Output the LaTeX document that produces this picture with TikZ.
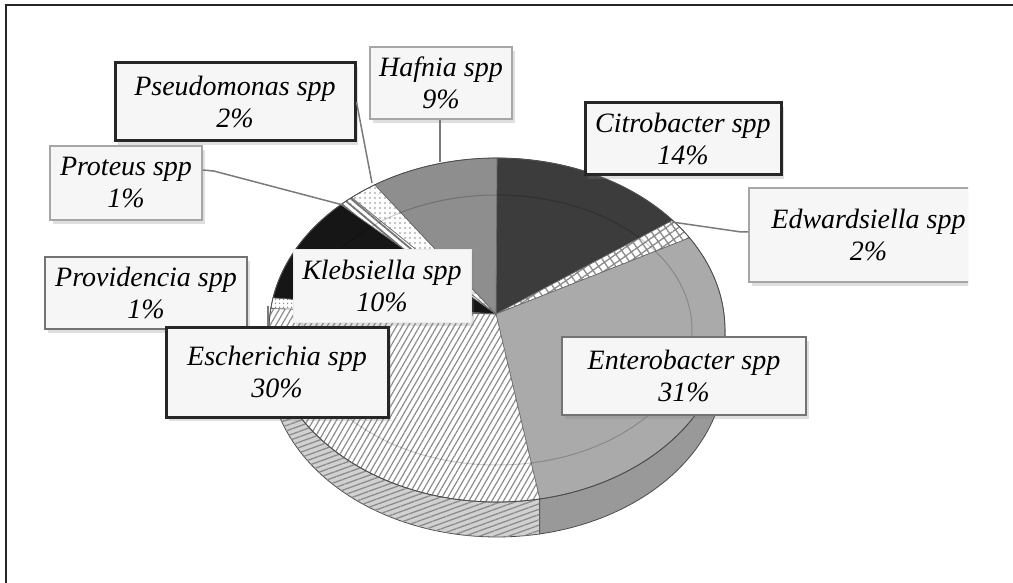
\documentclass[tikz,border=0pt]{standalone}
\usepackage{fontspec}
\setmainfont{Liberation Serif}
\usetikzlibrary{patterns.meta,shadows,calc}
\definecolor{citro}{HTML}{3C3C3C}
\definecolor{entero}{HTML}{AAAAAA}
\definecolor{enteroside}{HTML}{999999}
\definecolor{kleb}{HTML}{161616}
\definecolor{hafnia}{HTML}{8E8E8E}
\definecolor{hatch}{HTML}{8A8A8A}
\definecolor{boxfill}{HTML}{F6F6F6}
\definecolor{leader}{HTML}{7A7A7A}
\newcommand{\pieslice}[3]{\path[#3] (496,314) -- plot[domain=#1:#2,samples=50] ({497+228*cos(\x)},{330-172*sin(\x)}) -- cycle;}
\newcommand{\pieside}[3]{\path[#3] plot[domain=#1:#2,samples=50] ({497+228*cos(\x)},{330-172*sin(\x)}) -- plot[domain=#2:#1,samples=50] ({497+228*cos(\x)},{365-172*sin(\x)}) -- cycle;}
\begin{document}
\begin{tikzpicture}[x=1pt,y=-1pt,
  lbl/.style={align=center, font=\fontsize{28}{32}\selectfont\itshape, inner sep=0pt,
    fill=boxfill, drop shadow={shadow xshift=3pt,shadow yshift=-4pt,opacity=0.25}},
  darkbox/.style={lbl, draw=black!85, line width=3pt},
  midbox/.style={lbl, draw=black!55, line width=2pt},
  lightbox/.style={lbl, draw=black!35, line width=1.5pt},
  faintbox/.style={lbl, draw=black!8, line width=1pt},
  lead/.style={draw=leader, line width=1.5pt},
  sep/.style={draw=black!60, line width=0.6pt}]
\useasboundingbox (0,0) rectangle (1013,583);
% frame
\draw[line width=2pt, black!85] (1013,5) -- (6,5) -- (6,583);
% pie side
\pieside{180}{280.8}{fill=black!18, draw=black!70, line width=0.8pt}
\pieside{180}{280.8}{pattern={Lines[angle=20,distance=5pt,line width=1.3pt]}, pattern color=black!45}
\pieside{280.8}{360}{fill=enteroside, draw=black!70, line width=0.8pt}
% pie top
\pieslice{90}{39.6}{fill=citro, sep}
\pieslice{39.6}{32.4}{preaction={fill=white}, pattern={Hatch[angle=35,distance=7pt,line width=1.3pt]}, pattern color=hatch, sep}
\pieslice{32.4}{-79.2}{fill=entero, sep}
\pieslice{-79.2}{-187.2}{preaction={fill=white}, pattern={Lines[angle=60,distance=5pt,line width=1.2pt]}, pattern color=black!45, sep}
\pieslice{-187.2}{-190.8}{preaction={fill=white}, pattern={Dots[distance=4pt,radius=1pt]}, pattern color=black!45, sep}
\pieslice{-190.8}{-226.8}{fill=kleb, sep}
\pieslice{-226.8}{-230.4}{preaction={fill=white}, pattern={Lines[angle=-40,distance=5pt,line width=1.8pt]}, pattern color=black!55, sep}
\pieslice{-230.4}{-237.6}{preaction={fill=white}, pattern={Dots[distance=5pt,radius=1.2pt]}, pattern color=black!30, sep}
\pieslice{-237.6}{-270}{fill=hafnia, sep}
% bevel rim and outline
\draw[black, opacity=0.2, line width=1pt] (497,330) ellipse [x radius=195pt, y radius=135pt];
\draw[black!70, line width=0.8pt] (497,330) ellipse [x radius=228pt, y radius=172pt];
% anchor points on the pie
\coordinate (hafpt) at (440,162);
\coordinate (psept) at (372,183);
\coordinate (propt) at (343,205);
\coordinate (edwpt) at (672,222);
\coordinate (prvpt) at (268,306);
% labels (boxes not covering leaders first)
\node[lightbox, minimum width=142pt, minimum height=72pt] (haf) at (441,83) {Hafnia spp\\9\%};
\node[darkbox, minimum width=240pt, minimum height=78pt] (pse) at (235,102) {Pseudomonas spp\\2\%};
\node[darkbox, minimum width=196pt, minimum height=72pt] (cit) at (683,139) {Citrobacter spp\\14\%};
\node[lightbox, minimum width=152pt, minimum height=74pt] (pro) at (126,183) {Proteus spp\\1\%};
\begin{scope}
\clip (0,0) rectangle (968,583);
\node[lightbox, minimum width=239pt, minimum height=94pt] (edw) at (868.5,235) {Edwardsiella spp\\2\%};
\end{scope}
\node[faintbox, minimum width=178pt, minimum height=73pt] (kle) at (382,285.5) {Klebsiella spp\\10\%};
\node[midbox, minimum width=202pt, minimum height=72pt] (prv) at (146,293) {Providencia spp\\1\%};
% leaders
\path[lead] (haf.south -| hafpt) -- (hafpt);
\path[lead] (pse.east) -- (psept);
\path[lead] ([yshift=13pt]pro.east) -- ++(11,1) -- (propt);
\path[lead] ([yshift=3pt]edw.west) -- ++(-7,0) -- (edwpt);
\path[lead] (prvpt) |- (prv.south east);
% boxes drawn over leaders
\node[darkbox, minimum width=222pt, minimum height=90pt] (esc) at (277,372) {Escherichia spp\\30\%};
\node[midbox, minimum width=244pt, minimum height=78pt] (ent) at (684,376) {Enterobacter spp\\31\%};
\end{tikzpicture}
\end{document}
